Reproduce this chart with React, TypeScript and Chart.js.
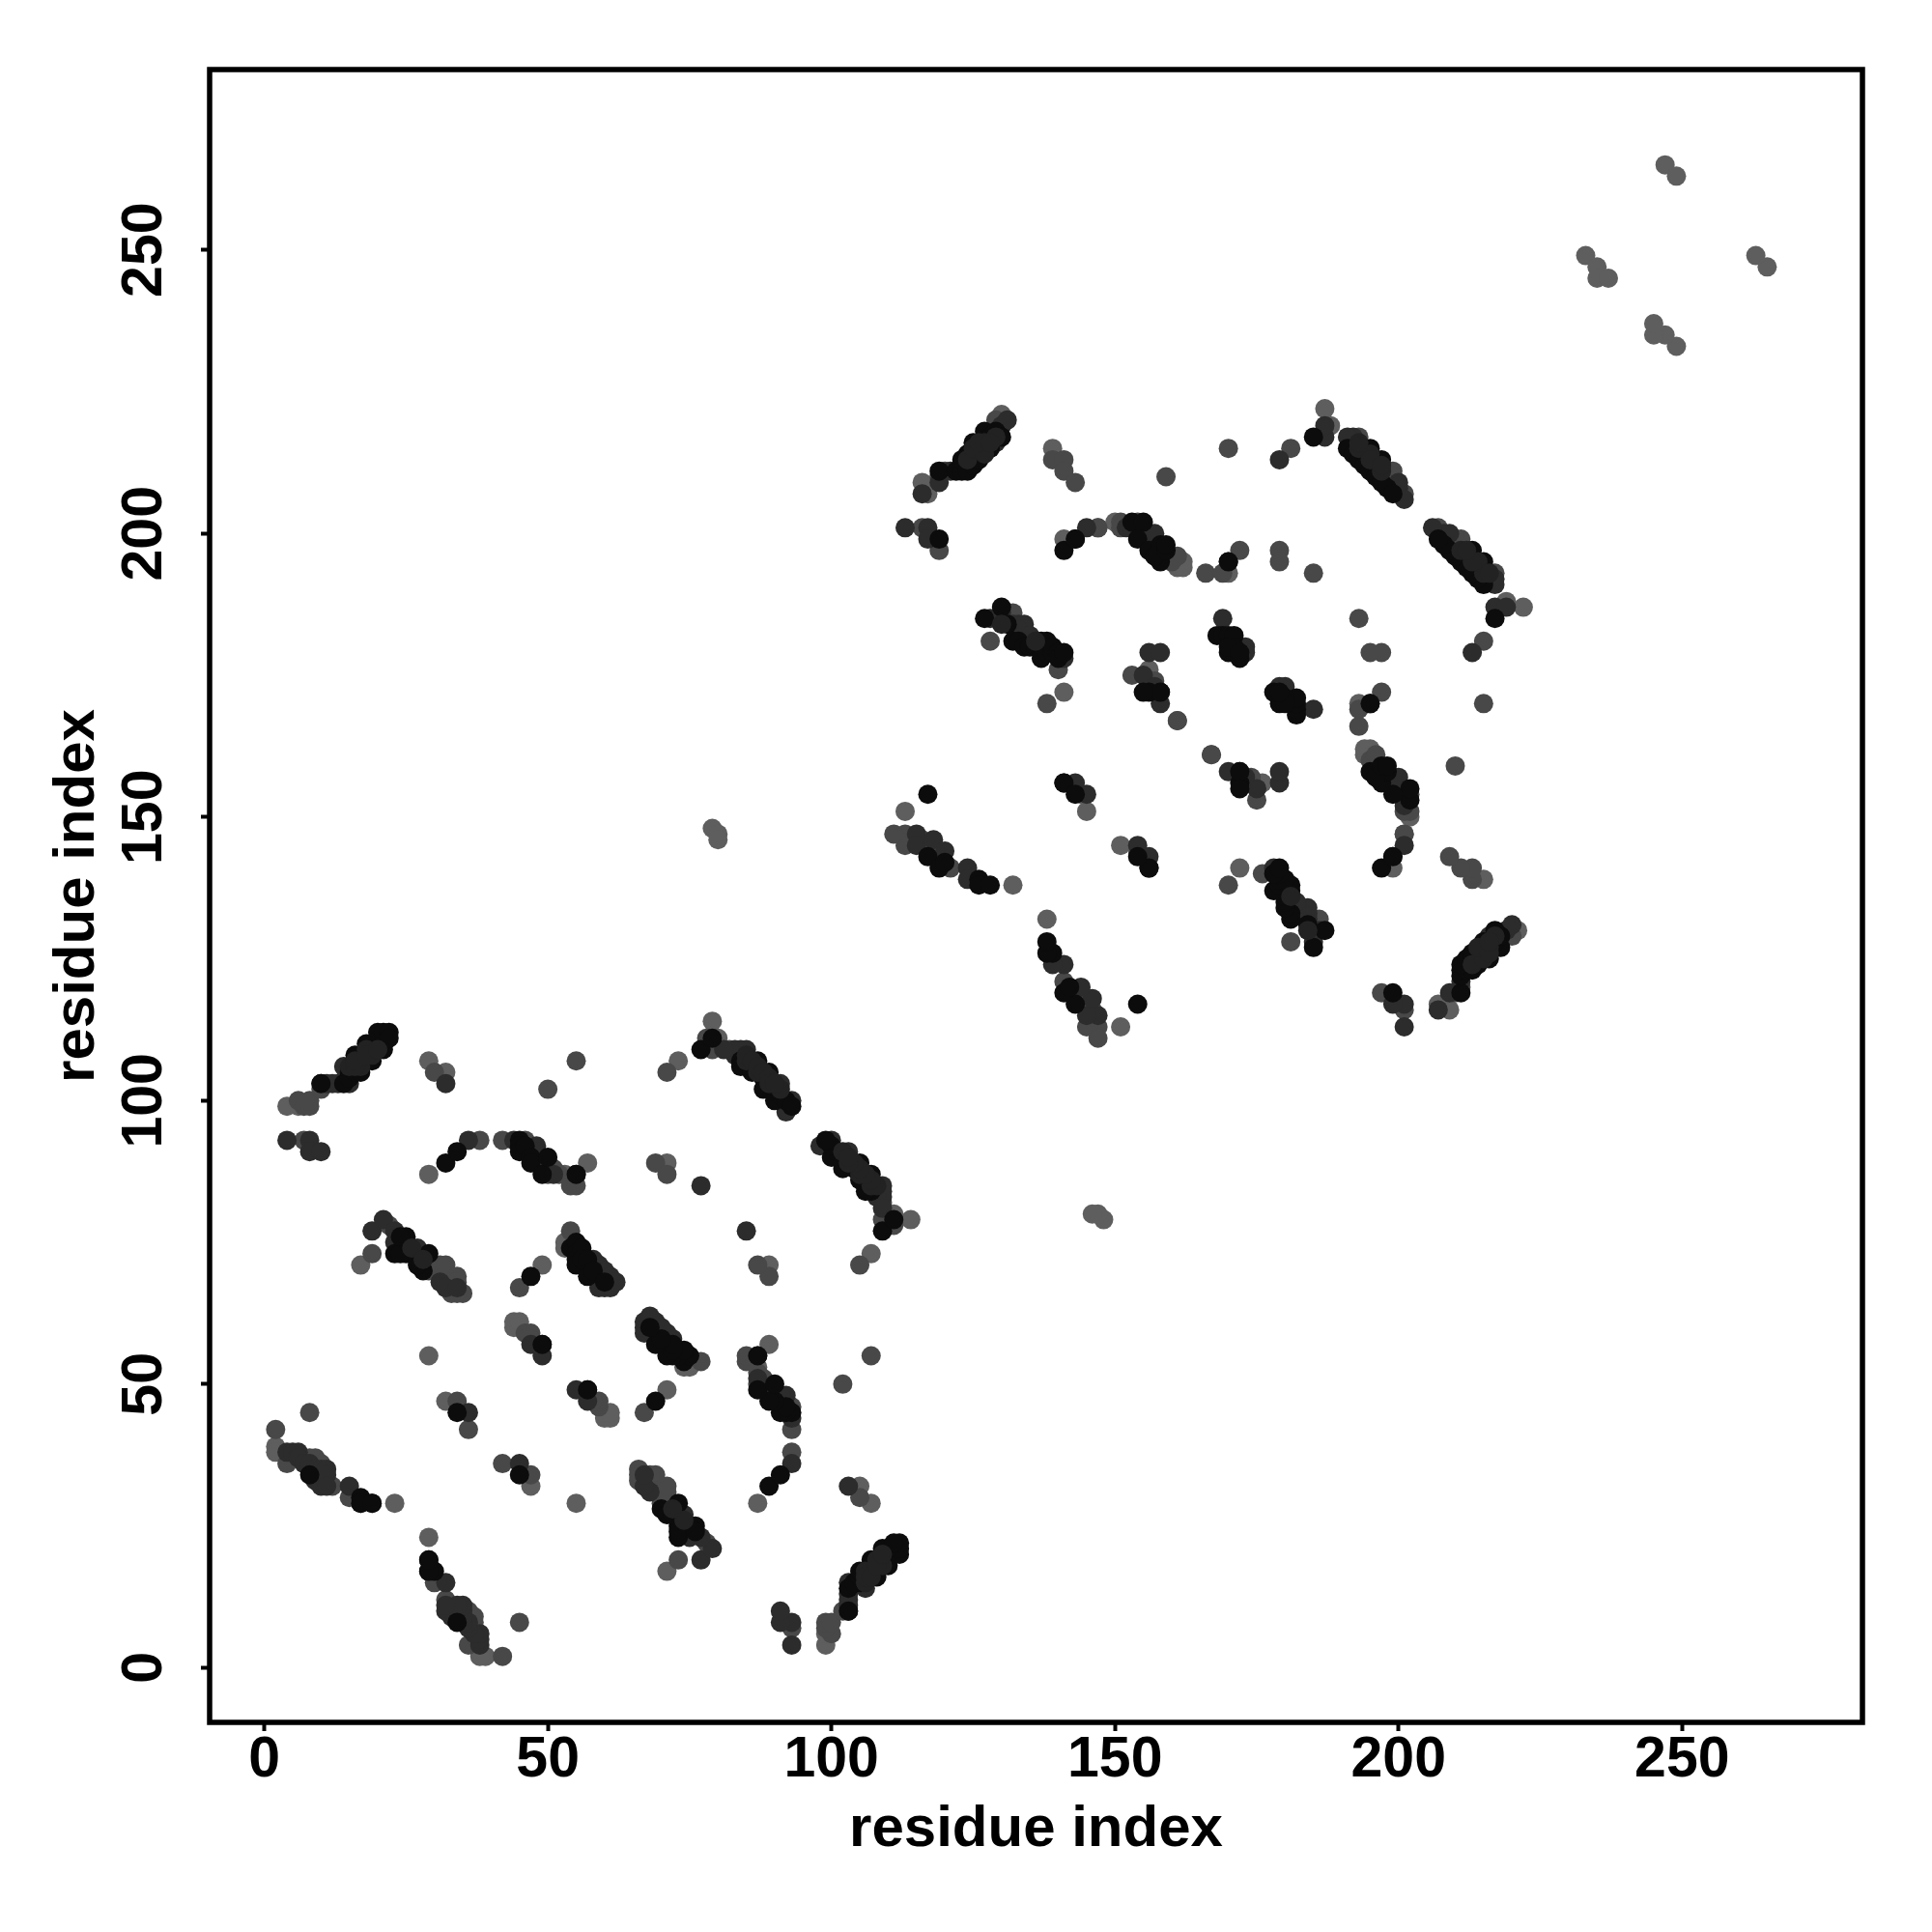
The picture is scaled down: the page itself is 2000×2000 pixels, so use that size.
import React, { useEffect, useRef } from "react";
import { Chart, registerables } from "chart.js";

Chart.register(...registerables);

type Pair = [number, number];

// Residue contacts [i, j]; the map is symmetric, so each pair also draws as [j, i].
const contactsUnder: Pair[] = [
  [15,106],[17,106],[19,108],[16,106],[18,109],[124,213],[126,215],[125,215],[127,216],[129,217],
  [85,107],[87,105],[91,102],[193,215],[195,214],[197,211],[26,74],[28,72],[130,184],[136,181],
  [127,214],[126,216],[128,216],[85,108],[86,107],[87,106],[88,105],[89,104],[89,103],[90,103],
  [16,107],[18,108],[20,109],[193,216],[195,213],[197,212],
];
const contactsBlack: Pair[] = [
  [8,34],[17,30],[17,29],[19,29],[34,45],[49,57],[47,69],[32,89],[34,91],
  [10,103],[14,103],[15,105],[15,104],[16,108],[16,105],[17,107],[17,105],[18,110],[18,107],[19,109],[19,107],
  [20,112],[20,110],[21,112],[21,110],[21,109],[22,112],[22,111],[45,93],[45,92],[45,91],[46,92],[47,90],[47,89],
  [49,87],[50,90],[55,87],[25,76],[25,75],[25,74],[25,73],[23,73],[24,73],[29,73],[28,70],[27,71],[27,72],[24,76],
  [54,74],[55,75],[55,73],[55,72],[55,71],[56,74],[56,72],[57,72],[57,69],[58,70],[60,68],[77,109],[79,111],
  [84,107],[84,106],[86,105],[87,107],[88,104],[88,102],[89,105],[90,102],[90,100],[91,101],[92,100],[93,99],
  [119,211],[122,211],[123,211],[123,212],[123,213],[124,211],[124,214],[125,212],[125,213],[125,216],
  [126,214],[126,213],[127,215],[127,218],[128,215],[128,217],[129,218],[130,217],[119,199],[185,217],[141,197],
  [143,199],[153,202],[155,202],[154,199],[156,197],[158,198],[158,195],[157,196],[159,197],[159,198],[170,195],
  [156,172],[158,172],[155,172],[191,215],[192,214],[193,213],[194,212],[195,215],[195,211],[196,210],[197,213],
  [197,209],[198,208],[199,207],[168,182],[169,182],[170,182],[170,179],[171,182],[172,178],[171,180],[170,180],
  [172,179],[127,185],[130,187],[131,184],[132,181],[133,181],[134,180],[135,180],[136,180],[137,181],[137,179],
  [138,181],[137,178],[138,179],[139,179],[139,180],[140,179],[140,178],[141,179],[117,154],[117,143],[119,141],
  [126,139],[126,138],[128,138],[120,142],[141,156],[143,154],
];
const contactsDark: Pair[] = [
  [4,38],[5,38],[6,38],[6,37],[7,36],[8,36],[8,35],[9,33],[10,34],[9,35],[10,35],[10,32],[11,35],[11,34],[11,32],[15,32],
  [36,45],[47,57],[49,55],[116,207],
  [32,103],[11,103],[12,103],[13,103],[15,103],[14,106],[4,93],[8,93],[8,91],[10,91],[36,93],[44,93],[48,92],[48,91],
  [49,88],[51,87],[19,77],[21,79],[23,77],[23,75],[27,74],[31,68],[32,67],[34,67],[57,71],[58,72],[59,71],[59,67],
  [60,70],[60,67],[61,67],[61,69],[62,68],[77,85],[83,109],[84,109],[85,109],[83,108],[91,103],[92,98],[93,100],[81,109],
  [119,209],[121,211],[129,216],[130,219],[131,220],[113,201],[117,201],[117,199],[179,213],[187,217],[187,219],
  [145,201],[152,201],[153,201],[154,200],[156,200],[157,200],[155,175],[158,170],[156,179],[158,179],[157,173],
  [192,217],[191,217],[200,208],[200,209],[201,206],[169,185],[173,180],[173,179],[128,185],[130,186],[132,184],
  [133,184],[134,184],[133,183],[134,182],[135,181],[135,182],[141,178],[115,147],[115,145],[118,146],[120,144],
  [124,141],[124,139],[143,156],[145,154],
];
const contactsMid: Pair[] = [
  [2,42],[4,36],[7,37],[8,37],[9,37],[10,36],[12,32],[15,30],[8,45],[34,47],[36,42],[46,59],[47,59],[47,58],[45,67],
  [30,105],[50,102],[55,107],[6,100],[7,99],[8,99],[8,100],[10,102],[7,93],[38,93],[42,93],
  [46,93],[47,92],[47,91],[48,90],[49,90],[50,89],[50,88],[50,87],[51,88],[52,87],[54,85],[55,85],[19,73],[22,78],
  [29,70],[30,71],[31,71],[32,71],[34,69],[33,66],[35,66],[33,68],[34,68],[34,66],[54,77],[59,69],[78,111],[79,109],
  [71,105],[82,109],[69,89],[71,87],
  [119,210],[120,211],[129,220],[116,201],[119,197],[139,213],[141,213],[141,211],
  [143,209],[159,210],[170,215],[181,215],[147,201],[151,202],[151,201],[154,202],[155,199],[157,198],[159,196],
  [160,195],[161,196],[166,193],[169,193],[172,197],[179,197],[179,195],[185,193],[153,175],[156,174],[157,174],
  [161,167],[193,217],[199,211],[199,210],[201,207],[172,180],[130,185],
  [131,186],[132,186],[140,176],[128,181],[138,170],[113,147],[113,145],[111,147],[116,146],[119,143],[121,141],
  [118,145],[167,161],
];
const contactsLight: Pair[] = [
  [2,39],[2,38],[23,29],[29,55],[32,47],[44,60],[44,61],[45,60],[45,61],[49,71],[29,107],[32,105],[4,99],[6,99],
  [17,71],[27,73],[53,87],[57,89],[29,87],[53,75],[53,74],[79,114],[80,111],[73,107],[71,89],[79,148],[80,147],[80,146],
  [116,209],[117,207],[130,221],[139,215],[187,222],[188,219],[141,199],[147,201],[150,202],[161,194],[162,195],
  [162,194],[170,193],[156,176],[171,181],[141,172],[113,151],[132,138],[144,154],[145,151],[233,249],[235,247],
  [235,245],[237,245],[247,265],[249,263],
];
const contactsFront: Pair[] = [[55,87],[49,57],[170,195],[143,199],[10,103],[17,29],[19,29],[158,172],[141,156]];

const tickValues = [0, 50, 100, 150, 200, 250];
const axisTitle = "residue index";
const axisMin = -9.64;
const axisMax = 281.8;

const tiers: [Pair[], string][] = [
  [contactsUnder, "#222222"],
  [contactsBlack, "#0c0c0c"],
  [contactsDark, "#2c2c2c"],
  [contactsMid, "#484848"],
  [contactsLight, "#5e5e5e"],
  [contactsFront, "#0e0e0e"],
];

const mirror = (pairs: Pair[]) =>
  pairs.flatMap(([a, b]) => [{ x: a, y: b }, { x: b, y: a }]);

const FONT = '"Liberation Sans", Arimo, Helvetica, Arial, sans-serif';

const frame = {
  id: "frame",
  afterDatasetsDraw(chart: any) {
    const { ctx, chartArea: a } = chart;
    ctx.save();
    ctx.strokeStyle = "#000";
    ctx.lineWidth = 5.5;
    ctx.lineJoin = "miter";
    ctx.strokeRect(a.left, a.top, a.right - a.left, a.bottom - a.top);
    ctx.restore();
  },
};

const makeAxis = (fit: (s: any) => void, tickOpts: any) => ({
  type: "linear" as const,
  min: axisMin,
  max: axisMax,
  afterBuildTicks: (s: any) => {
    s.ticks = tickValues.map((value) => ({ value }));
  },
  afterFit: fit,
  border: { display: false },
  grid: {
    display: true,
    drawOnChartArea: false,
    drawTicks: true,
    tickLength: 9,
    tickWidth: 4,
    tickColor: "#000",
  },
  ticks: {
    color: "#000",
    font: { family: FONT, size: 59, weight: "bold" as const },
    autoSkip: false,
    callback: (v: any) => String(v),
    ...tickOpts,
  },
  title: {
    display: true,
    text: axisTitle,
    color: "#000",
    font: { family: FONT, size: 60, weight: "bold" as const },
    padding: { top: 44, bottom: 70 },
  },
});

export default function App() {
  const ref = useRef<HTMLCanvasElement | null>(null);
  useEffect(() => {
    if (!ref.current) return;
    const chart = new Chart(ref.current, {
      type: "scatter",
      data: {
        datasets: tiers.map(([pairs, color]) => ({
          data: mirror(pairs),
          backgroundColor: color,
          borderWidth: 0,
          pointRadius: 10,
          pointHoverRadius: 10,
        })),
      },
      options: {
        animation: false,
        responsive: false,
        devicePixelRatio: 1,
        layout: { padding: { top: 72, right: 72, left: 0, bottom: 0 } },
        plugins: { legend: { display: false }, tooltip: { enabled: false } },
        scales: {
          x: makeAxis((s) => { s.height = 217; }, { padding: -5, maxRotation: 0, minRotation: 0 }),
          y: makeAxis((s) => { s.width = 217; }, { padding: 8, minRotation: 90, maxRotation: 90, crossAlign: "center" }),
        },
      } as any,
      plugins: [frame],
    });
    return () => chart.destroy();
  }, []);
  return (
    <div style={{ position: "absolute", left: 0, top: 0, width: 2000, height: 2000, background: "#fff" }}>
      <canvas ref={ref} width={2000} height={2000} style={{ display: "block" }} />
    </div>
  );
}
